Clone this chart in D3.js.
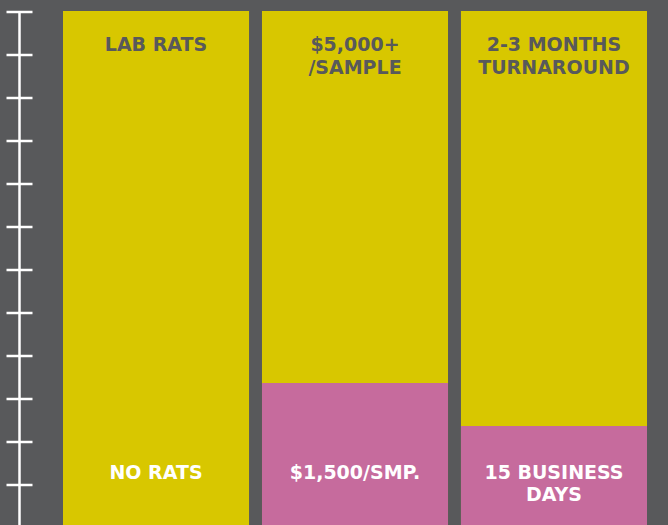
<!DOCTYPE html>
<html>
<head>
<meta charset="utf-8">
<script src="https://cdn.jsdelivr.net/npm/d3@7"></script>
<style>
  html, body { margin: 0; padding: 0; background: #58595b; }
  svg { display: block; }
</style>
</head>
<body>
<svg id="chart"></svg>
<script>
// data
const categories = ["lab", "price", "time"];
const oldValues = [12, 12, 12];
const newValues = [0, 3.36, 2.36];
const oldLabels = [["LAB RATS"], ["$5,000+", "/SAMPLE"], ["2-3 MONTHS", "TURNAROUND"]];
const newLabels = [["NO RATS"], ["$1,500/SMP."], ["15 BUSINESS", "DAYS"]];
const tickValues = [1, 2, 3, 4, 5, 6, 7, 8, 9, 10, 11, 12];

const width = 668, height = 525;
const svg = d3.select("#chart").attr("width", width).attr("height", height);

svg.append("rect").attr("width", width).attr("height", height).attr("fill", "#58595b");

const x = d3.scaleBand().domain(categories).range([63, 647]).paddingInner(0.065);
const y = d3.scaleLinear().domain([0, 12]).range([527.5, 11.5]);

// old bars (yellow)
svg.append("g").selectAll("rect")
  .data(categories)
  .join("rect")
  .attr("x", d => x(d))
  .attr("width", x.bandwidth())
  .attr("y", (d, i) => y(oldValues[i]) - 0.5)
  .attr("height", (d, i) => height - y(oldValues[i]) + 0.5)
  .attr("fill", "#d8c700");

// new bars (pink)
svg.append("g").selectAll("rect")
  .data(categories)
  .join("rect")
  .attr("x", d => x(d))
  .attr("width", x.bandwidth())
  .attr("y", (d, i) => y(newValues[i]))
  .attr("height", (d, i) => Math.max(0, height - y(newValues[i])))
  .attr("fill", "#c66b9d");

// axis
const axis = svg.append("g").attr("transform", "translate(19.5,0)")
  .call(d3.axisLeft(y).tickValues(tickValues).tickSize(0).tickFormat(""));
axis.select(".domain").remove();
axis.append("line").attr("y1", 11).attr("y2", height)
  .attr("stroke", "#fff").attr("stroke-width", 2.5);
axis.selectAll(".tick line")
  .attr("x1", -13).attr("x2", 13)
  .attr("stroke", "#fff").attr("stroke-width", 2.5);

const font = "'DejaVu Sans', sans-serif";

// top labels
svg.append("g").selectAll("text")
  .data(categories)
  .join("text")
  .attr("x", d => x(d) + x.bandwidth() / 2)
  .attr("y", 50.5)
  .attr("text-anchor", "middle")
  .attr("fill", "#58595b")
  .style("font-family", font)
  .style("font-weight", 700)
  .style("font-size", "19px")
  .each(function (d, i) {
    d3.select(this).selectAll("tspan")
      .data(oldLabels[i])
      .join("tspan")
      .attr("x", x(d) + x.bandwidth() / 2)
      .attr("dy", (t, j) => j === 0 ? 0 : 23)
      .text(t => t);
  });

// bottom labels
svg.append("g").selectAll("text")
  .data(categories)
  .join("text")
  .attr("x", d => x(d) + x.bandwidth() / 2)
  .attr("y", 478.5)
  .attr("text-anchor", "middle")
  .attr("fill", "#ffffff")
  .style("font-family", font)
  .style("font-weight", 700)
  .style("font-size", "19px")
  .each(function (d, i) {
    d3.select(this).selectAll("tspan")
      .data(newLabels[i])
      .join("tspan")
      .attr("x", x(d) + x.bandwidth() / 2)
      .attr("dy", (t, j) => j === 0 ? 0 : 22.5)
      .text(t => t);
  });
</script>
</body>
</html>
